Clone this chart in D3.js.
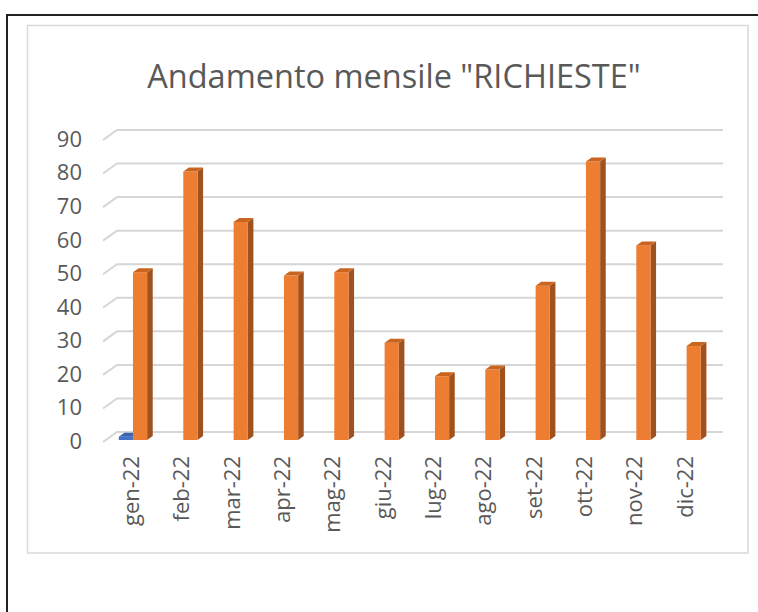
<!DOCTYPE html>
<html>
<head>
<meta charset="utf-8">
<script src="https://cdn.jsdelivr.net/npm/d3@7"></script>
<style>
  body { margin: 0; background: #fff; }
  svg { display: block; }
  text { font-family: "Open Sans", "Liberation Sans", sans-serif; fill: #595959; }
</style>
</head>
<body>
<svg id="chart" width="758" height="612"></svg>
<script>
// dati del grafico
const months = ["gen-22", "feb-22", "mar-22", "apr-22", "mag-22", "giu-22",
                "lug-22", "ago-22", "set-22", "ott-22", "nov-22", "dic-22"];
const serie1 = [1, null, null, null, null, null, null, null, null, null, null, null];
const richieste = [50, 80, 65, 49, 50, 29, 19, 21, 46, 83, 58, 28];
const yTicks = [0, 10, 20, 30, 40, 50, 60, 70, 80, 90];
const title = 'Andamento mensile "RICHIESTE"';

const svg = d3.select("#chart");

// cornici
svg.append("rect")
    .attr("x", 7).attr("y", 15)
    .attr("width", 800).attr("height", 700)
    .attr("fill", "none").attr("stroke", "#222").attr("stroke-width", 2);
svg.append("rect")
    .attr("x", 27.5).attr("y", 25.5)
    .attr("width", 720.5).attr("height", 527.5)
    .attr("fill", "none").attr("stroke", "#d9d9d9").attr("stroke-width", 1.5);

// titolo
svg.append("text")
    .attr("x", 394).attr("y", 88)
    .attr("text-anchor", "middle")
    .style("font-size", "32.5px")
    .text(title);

// profondita 3D: dal piano frontale alla parete di fondo
const depth = { dx: 14, dy: -10 };

// scale sul piano frontale
const scX = d3.scaleBand()
    .domain(months)
    .range([105, 709])
    .paddingInner(0.437)
    .paddingOuter(0.2185);
const scS = d3.scaleBand()
    .domain(["s1", "s2"])
    .range([0, scX.bandwidth()]);
const scY = d3.scaleLinear()
    .domain([0, 90])
    .range([442, 140]);

// griglia sulla parete di fondo
const grid = svg.append("g");
yTicks.forEach(v => {
    const yF = scY(v);
    grid.append("path")
        .attr("d", `M103,${yF} L${103 + depth.dx},${yF + depth.dy} L${scX.range()[1] + depth.dx},${yF + depth.dy}`)
        .attr("fill", "none")
        .attr("stroke", "#d6d6d6")
        .attr("stroke-width", 2);
});

// etichette asse Y
svg.append("g").selectAll("text")
    .data(yTicks)
    .enter()
    .append("text")
    .attr("x", 82)
    .attr("y", d => scY(d) + 1)
    .attr("text-anchor", "end")
    .attr("dominant-baseline", "middle")
    .style("font-size", "22px")
    .text(d => d);

// etichette asse X (verticali)
svg.append("g").selectAll("text")
    .data(months)
    .enter()
    .append("text")
    .attr("transform", d => `translate(${scX(d) + scX.bandwidth() / 2 + 3}, 456) rotate(-90)`)
    .attr("text-anchor", "end")
    .attr("dominant-baseline", "middle")
    .style("font-size", "22px")
    .text(d => d);

// colonne 3D
const t0 = 0.2, t1 = 0.6;
function drawBar(g, x, w, v, colors) {
    const ox0 = depth.dx * t0, oy0 = depth.dy * t0;
    const ox1 = depth.dx * t1, oy1 = depth.dy * t1;
    const xl = x + ox0, xr = x + w + ox0;
    const yb = scY(0) + oy0, yt = scY(v) + oy0;
    const ddx = ox1 - ox0, ddy = oy1 - oy0;
    // lato destro
    g.append("path")
        .attr("d", `M${xr},${yb} L${xr + ddx},${yb + ddy} L${xr + ddx},${yt + ddy} L${xr},${yt} Z`)
        .attr("fill", colors.side);
    // frontale
    g.append("rect")
        .attr("x", xl).attr("y", yt)
        .attr("width", w).attr("height", Math.max(yb - yt, 0.5))
        .attr("fill", colors.front);
    // sommita
    g.append("path")
        .attr("d", `M${xl},${yt} L${xl + ddx},${yt + ddy} L${xr + ddx},${yt + ddy} L${xr},${yt} Z`)
        .attr("fill", colors.top);
}

const blue = { front: "#4472C4", side: "#2F5597", top: "#3A64B0" };
const orange = { front: "#ED7D31", side: "#A0521E", top: "#C9651F" };

const bars = svg.append("g");
months.forEach((m, i) => {
    if (serie1[i] !== null) {
        drawBar(bars, scX(m) + scS("s1"), scS.bandwidth(), serie1[i], blue);
    }
    if (richieste[i] !== null) {
        drawBar(bars, scX(m) + scS("s2"), scS.bandwidth(), richieste[i], orange);
    }
});
</script>
</body>
</html>
